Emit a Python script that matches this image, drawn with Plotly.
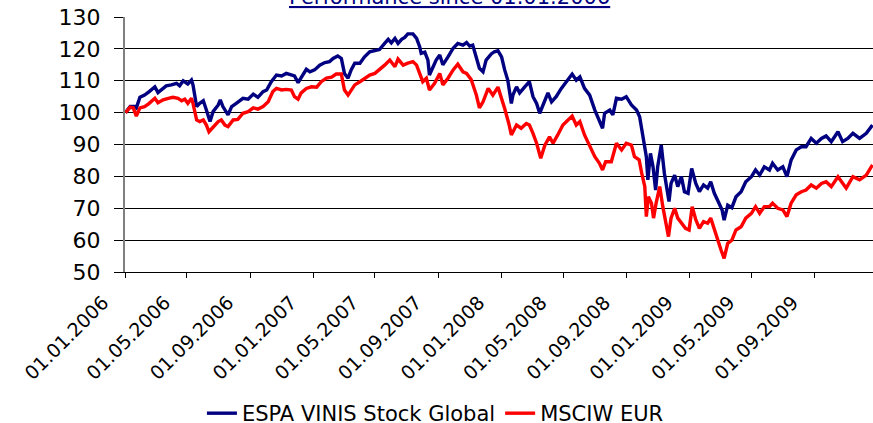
import plotly.graph_objects as go

espa_dates = [
    "2006-01-02", "2006-01-11", "2006-01-20", "2006-01-23", "2006-01-30", "2006-02-08", "2006-02-17", "2006-02-28",
    "2006-03-06", "2006-03-13", "2006-03-22", "2006-04-01", "2006-04-11", "2006-04-17", "2006-04-24", "2006-05-03",
    "2006-05-10", "2006-05-13", "2006-05-20", "2006-05-26", "2006-06-02", "2006-06-08", "2006-06-15", "2006-06-21",
    "2006-07-01", "2006-07-05", "2006-07-10", "2006-07-20", "2006-07-27", "2006-08-05", "2006-08-18", "2006-08-28",
    "2006-09-07", "2006-09-16", "2006-09-26", "2006-10-03", "2006-10-12", "2006-10-22", "2006-11-01", "2006-11-10",
    "2006-11-20", "2006-11-26", "2006-12-03", "2006-12-13", "2006-12-19", "2006-12-26",
    "2007-01-04", "2007-01-14", "2007-01-24", "2007-02-02", "2007-02-09", "2007-02-18", "2007-02-25", "2007-03-03",
    "2007-03-10", "2007-03-16", "2007-03-23", "2007-04-02", "2007-04-11", "2007-04-21", "2007-05-01", "2007-05-10",
    "2007-05-20", "2007-05-27", "2007-06-02", "2007-06-09", "2007-06-15", "2007-06-22", "2007-06-28", "2007-07-04",
    "2007-07-14", "2007-07-21", "2007-07-27", "2007-07-30", "2007-08-06", "2007-08-12", "2007-08-15", "2007-08-22",
    "2007-08-28", "2007-09-04", "2007-09-10", "2007-09-20", "2007-09-30", "2007-10-09", "2007-10-19", "2007-10-26",
    "2007-11-01", "2007-11-07", "2007-11-14", "2007-11-20", "2007-11-27", "2007-12-03", "2007-12-13", "2007-12-19",
    "2007-12-26",
    "2008-01-02", "2008-01-08", "2008-01-14", "2008-01-21", "2008-01-24", "2008-01-31", "2008-02-06", "2008-02-16",
    "2008-02-25", "2008-03-03", "2008-03-10", "2008-03-16", "2008-03-23", "2008-04-01", "2008-04-08", "2008-04-17",
    "2008-04-27", "2008-05-07", "2008-05-18", "2008-05-26", "2008-06-02", "2008-06-11", "2008-06-21", "2008-07-01",
    "2008-07-10", "2008-07-16", "2008-07-20", "2008-07-30", "2008-08-05", "2008-08-12", "2008-08-22", "2008-08-31",
    "2008-09-10", "2008-09-20", "2008-09-26", "2008-10-02", "2008-10-09", "2008-10-12", "2008-10-17", "2008-10-22",
    "2008-10-27", "2008-10-31", "2008-11-07", "2008-11-13", "2008-11-22", "2008-11-26", "2008-12-03", "2008-12-09",
    "2008-12-16", "2008-12-22", "2008-12-29",
    "2009-01-05", "2009-01-13", "2009-01-20", "2009-01-28", "2009-02-05", "2009-02-11", "2009-02-18", "2009-02-26",
    "2009-03-05", "2009-03-09", "2009-03-16", "2009-03-24", "2009-04-01", "2009-04-11", "2009-04-20", "2009-05-01",
    "2009-05-09", "2009-05-17", "2009-05-26", "2009-06-05", "2009-06-11", "2009-06-21", "2009-07-01", "2009-07-09",
    "2009-07-17", "2009-07-27", "2009-08-06", "2009-08-15", "2009-08-25", "2009-09-04", "2009-09-14", "2009-09-23",
    "2009-10-03", "2009-10-16", "2009-10-25", "2009-11-04", "2009-11-14", "2009-11-27", "2009-12-10", "2009-12-22",
]
espa_values = [
    100.0, 101.9, 101.9, 101.5, 104.8, 105.5, 106.6, 108.1,
    106.3, 107.1, 108.4, 108.7, 109.2, 108.4, 110.0, 109.0,
    110.2, 108.7, 101.9, 102.9, 103.7, 100.8, 97.2, 100.3,
    102.4, 104.0, 101.9, 99.3, 101.9, 102.9, 104.5, 104.2,
    105.8, 104.8, 106.6, 107.1, 109.7, 111.8, 111.5, 112.3,
    111.8, 111.5, 109.4, 111.8, 113.6, 112.8,
    113.4, 114.9, 115.7, 116.0, 117.0, 117.8, 117.0, 112.3,
    110.8, 113.4, 115.5, 115.5, 117.5, 119.1, 119.4, 119.8,
    121.7, 123.0, 121.9, 123.3, 121.7, 123.0, 123.6, 124.7,
    124.7, 123.3, 120.7, 118.6, 119.0, 116.5, 111.8, 114.4,
    116.5, 118.1, 115.0, 117.5, 120.2, 121.7, 121.2, 122.0,
    120.9, 121.2, 117.5, 113.9, 112.8, 116.5, 118.4, 119.1,
    119.4,
    117.5, 113.4, 110.2, 102.9, 105.5, 108.1, 106.2, 108.1,
    109.7, 105.0, 102.9, 99.8, 102.9, 106.2, 103.4, 105.0,
    107.6, 109.7, 112.1, 110.2, 111.2, 107.6, 105.5, 100.8,
    97.7, 95.1, 99.8, 100.8, 99.3, 104.5, 104.2, 105.0,
    102.4, 100.8, 98.7, 93.5, 86.2, 78.9, 87.2, 83.0,
    75.7, 83.0, 89.8, 81.0, 72.1, 77.8, 80.4, 76.8,
    79.9, 75.2, 74.7,
    82.5, 77.8, 75.2, 77.3, 76.3, 78.3, 74.7, 71.6,
    69.5, 66.3, 71.0, 70.2, 73.6, 75.2, 78.3, 79.9,
    82.0, 80.4, 83.0, 82.0, 84.1, 82.0, 83.0, 79.9,
    85.1, 88.3, 89.3, 89.3, 91.9, 90.4, 91.9, 92.7,
    90.9, 94.0, 90.9, 91.9, 93.5, 91.9, 93.5, 96.1,
]

msci_dates = [
    "2006-01-02", "2006-01-11", "2006-01-17", "2006-01-23", "2006-01-30", "2006-02-08", "2006-02-17", "2006-02-28",
    "2006-03-06", "2006-03-16", "2006-03-26", "2006-04-04", "2006-04-14", "2006-04-21", "2006-04-27", "2006-05-03",
    "2006-05-10", "2006-05-13", "2006-05-20", "2006-05-26", "2006-06-02", "2006-06-08", "2006-06-13", "2006-06-21",
    "2006-07-01", "2006-07-07", "2006-07-14", "2006-07-20", "2006-07-30", "2006-08-08", "2006-08-18", "2006-08-28",
    "2006-09-07", "2006-09-16", "2006-09-26", "2006-10-06", "2006-10-15", "2006-10-22", "2006-11-01", "2006-11-10",
    "2006-11-20", "2006-11-26", "2006-12-03", "2006-12-09", "2006-12-19", "2006-12-29",
    "2007-01-08", "2007-01-17", "2007-01-27", "2007-02-06", "2007-02-15", "2007-02-25", "2007-03-03", "2007-03-10",
    "2007-03-16", "2007-03-23", "2007-04-02", "2007-04-11", "2007-04-21", "2007-05-01", "2007-05-10", "2007-05-20",
    "2007-05-30", "2007-06-09", "2007-06-15", "2007-06-25", "2007-07-04", "2007-07-14", "2007-07-21", "2007-07-27",
    "2007-08-02", "2007-08-09", "2007-08-15", "2007-08-25", "2007-09-04", "2007-09-10", "2007-09-20", "2007-09-30",
    "2007-10-09", "2007-10-19", "2007-10-26", "2007-11-04", "2007-11-14", "2007-11-20", "2007-11-27", "2007-12-07",
    "2007-12-16", "2007-12-26",
    "2008-01-02", "2008-01-08", "2008-01-16", "2008-01-21", "2008-01-31", "2008-02-09", "2008-02-19", "2008-02-25",
    "2008-03-03", "2008-03-10", "2008-03-18", "2008-03-26", "2008-04-04", "2008-04-11", "2008-04-20", "2008-04-30",
    "2008-05-10", "2008-05-18", "2008-05-26", "2008-06-02", "2008-06-11", "2008-06-21", "2008-07-01", "2008-07-10",
    "2008-07-16", "2008-07-22", "2008-08-02", "2008-08-12", "2008-08-22", "2008-08-31", "2008-09-10", "2008-09-16",
    "2008-09-25", "2008-09-30", "2008-10-06", "2008-10-09", "2008-10-13", "2008-10-19", "2008-10-23", "2008-10-28",
    "2008-11-04", "2008-11-10", "2008-11-17", "2008-11-21", "2008-11-26", "2008-12-03", "2008-12-09", "2008-12-16",
    "2008-12-24", "2008-12-31",
    "2009-01-06", "2009-01-13", "2009-01-20", "2009-01-28", "2009-02-05", "2009-02-11", "2009-02-18", "2009-02-26",
    "2009-03-03", "2009-03-09", "2009-03-16", "2009-03-24", "2009-04-01", "2009-04-11", "2009-04-20", "2009-05-01",
    "2009-05-09", "2009-05-17", "2009-05-26", "2009-06-05", "2009-06-11", "2009-06-21", "2009-07-01", "2009-07-09",
    "2009-07-17", "2009-07-27", "2009-08-06", "2009-08-15", "2009-08-25", "2009-09-04", "2009-09-14", "2009-09-23",
    "2009-10-03", "2009-10-16", "2009-10-25", "2009-11-01", "2009-11-14", "2009-11-27", "2009-12-10", "2009-12-22",
]
msci_values = [
    100.0, 101.7, 101.5, 98.9, 101.5, 101.9, 102.9, 104.5,
    103.1, 104.0, 104.5, 104.8, 104.5, 103.7, 104.2, 102.9,
    104.5, 102.9, 97.7, 97.2, 97.7, 96.1, 94.0, 95.6,
    97.2, 97.7, 96.1, 95.6, 97.7, 97.9, 99.8, 100.3,
    101.5, 101.1, 101.9, 103.4, 106.6, 107.6, 107.1, 107.3,
    107.1, 105.0, 104.2, 106.2, 107.6, 108.1,
    108.0, 109.7, 110.8, 111.1, 112.1, 112.1, 107.1, 105.5,
    107.1, 108.7, 109.7, 110.8, 111.8, 112.3, 113.4, 114.9,
    116.5, 114.4, 116.8, 114.9, 115.5, 116.0, 114.9, 112.3,
    109.7, 110.8, 107.1, 109.2, 112.3, 108.7, 110.8, 113.4,
    115.2, 112.8, 112.3, 110.4, 105.5, 101.5, 103.4, 107.6,
    105.5, 108.0,
    104.5, 101.3, 96.6, 93.0, 96.1, 95.1, 96.6, 96.1,
    93.5, 90.4, 85.7, 89.8, 92.4, 90.4, 93.0, 96.1,
    97.7, 98.9, 96.1, 97.2, 93.0, 89.8, 86.2, 84.1,
    82.0, 84.6, 84.6, 90.4, 88.3, 90.4, 89.8, 86.2,
    85.2, 81.0, 76.8, 67.4, 73.6, 71.6, 66.9, 71.6,
    76.8, 70.5, 65.3, 61.1, 66.9, 70.0, 66.9, 65.3,
    63.7, 63.2,
    70.5, 66.4, 63.7, 65.8, 65.3, 66.9, 63.2, 59.5,
    56.9, 54.3, 59.0, 60.0, 63.2, 64.2, 66.9, 68.4,
    70.5, 68.4, 70.5, 70.5, 71.6, 70.0, 69.5, 67.4,
    71.6, 74.2, 75.2, 75.7, 77.3, 76.3, 77.8, 78.3,
    76.8, 79.9, 77.8, 76.3, 79.9, 78.9, 80.4, 83.6,
]

series_names = ["ESPA VINIS Stock Global", "MSCIW EUR"]
series_colors = ["#000080", "#FF0000"]
tick_dates = [
    "2006-01-01", "2006-05-01", "2006-09-01", "2007-01-01", "2007-05-01", "2007-09-01",
    "2008-01-01", "2008-05-01", "2008-09-01", "2009-01-01", "2009-05-01", "2009-09-01",
]
tick_labels = [
    "01.01.2006", "01.05.2006", "01.09.2006", "01.01.2007", "01.05.2007", "01.09.2007",
    "01.01.2008", "01.05.2008", "01.09.2008", "01.01.2009", "01.05.2009", "01.09.2009",
]
y_ticks = [50, 60, 70, 80, 90, 100, 110, 120, 130]
title_text = "Performance since 01.01.2006"

fig = go.Figure()
for name, color, xs, ys in [
    (series_names[0], series_colors[0], espa_dates, espa_values),
    (series_names[1], series_colors[1], msci_dates, msci_values),
]:
    fig.add_trace(go.Scatter(x=xs, y=ys, mode="lines", name=name,
                             line=dict(color=color, width=3.4)))

fig.update_layout(
    width=873, height=423,
    margin=dict(l=125, r=0, t=17, b=151, autoexpand=False),
    paper_bgcolor="white", plot_bgcolor="white",
    font=dict(family="DejaVu Sans", color="black"),
    showlegend=True,
    legend=dict(orientation="h", x=0.415, xanchor="center", y=-0.555, yanchor="middle",
                font=dict(family="DejaVu Sans", size=21, color="black"),
                bgcolor="rgba(0,0,0,0)"),
    annotations=[dict(text="<u>" + title_text + "</u>", xref="paper", yref="paper",
                      x=0.434, y=1.079, xanchor="center", yanchor="middle", showarrow=False,
                      font=dict(family="DejaVu Sans", size=21, color="#000080"))],
)
fig.update_xaxes(
    type="date", range=["2006-01-01", "2009-12-23"], automargin=False,
    tickmode="array", tickvals=tick_dates, ticktext=tick_labels, tickangle=-45,
    tickfont=dict(family="DejaVu Sans", size=19, color="black"),
    ticklabelshift=-22, ticklabelstandoff=6,
    showgrid=False, showline=True, linecolor="black", linewidth=1,
    ticks="outside", ticklen=5, tickcolor="black", zeroline=False,
)
fig.update_yaxes(
    range=[50, 130], tickmode="array", tickvals=y_ticks, automargin=False,
    tickfont=dict(family="DejaVu Sans", size=22, color="black"),
    showgrid=True, gridcolor="black", gridwidth=1,
    showline=True, linecolor="#808080", linewidth=2,
    ticks="outside", ticklen=9, tickcolor="black", ticklabelstandoff=9,
    zeroline=False,
)
fig.write_html("out.html", config={"displayModeBar": False},
               post_script="document.body.style.margin='0';document.body.style.overflow='hidden';")
